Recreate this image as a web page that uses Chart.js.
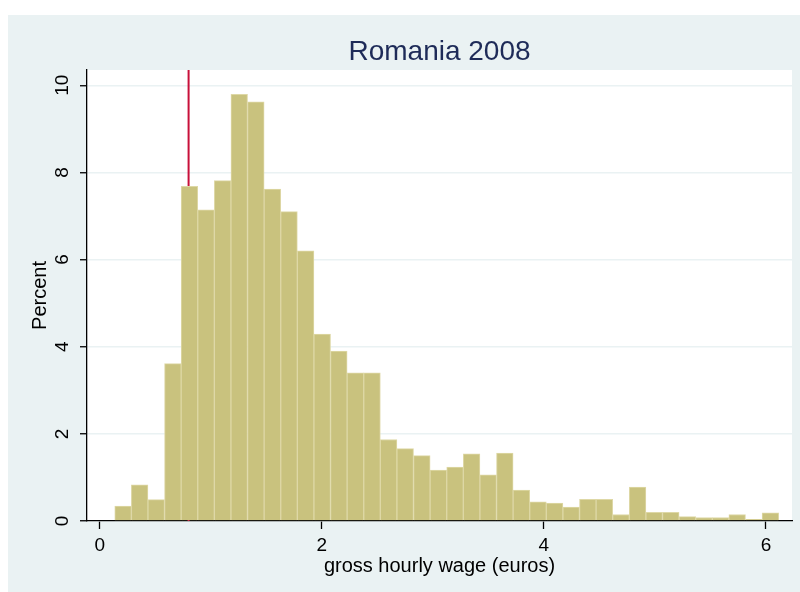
<!DOCTYPE html>
<html>
<head>
<meta charset="utf-8">
<script src="https://cdn.jsdelivr.net/npm/chart.js@4"></script>
<style>
  html, body { margin: 0; padding: 0; background: #fff; }
  #wrap { width: 800px; height: 592px; }
</style>
</head>
<body>
<div id="wrap"><canvas id="myChart"></canvas></div>
<script>
// histogram bins (euros)
var binStart = 0.135;
var binWidth = 0.1495;
var percents = [0.34, 0.83, 0.49, 3.61, 7.68, 7.14, 7.81, 9.79, 9.62, 7.62,
                7.10, 6.20, 4.29, 3.90, 3.40, 3.40, 1.87, 1.66, 1.50, 1.17,
                1.24, 1.54, 1.06, 1.56, 0.71, 0.44, 0.41, 0.32, 0.50, 0.50,
                0.15, 0.78, 0.20, 0.20, 0.10, 0.08, 0.08, 0.15, 0.04, 0.19];
var xTicks = [0, 2, 4, 6];
var yTicks = [0, 2, 4, 6, 8, 10];
var minWage = 0.8;   // red reference line
var chartTitle = 'Romania 2008';

var barData = percents.map(function (p, i) {
  return { x: binStart + binWidth * (i + 0.5), y: p };
});

// light panel, white plot region, title centred over the plot region
var panel = {
  id: 'panel',
  beforeDraw: function (chart) {
    var c = chart.ctx, a = chart.chartArea;
    c.save();
    c.fillStyle = '#EAF2F3';
    c.fillRect(8, 15, chart.width - 8, chart.height - 15);
    c.fillStyle = '#fff';
    c.fillRect(a.left, a.top, a.right - a.left, a.bottom - a.top);
    c.restore();
  },
  afterDraw: function (chart) {
    var c = chart.ctx, a = chart.chartArea;
    c.save();
    c.fillStyle = '#1E2B58';
    c.font = '28px "Liberation Sans"';
    c.textAlign = 'center';
    c.textBaseline = 'middle';
    c.fillText(chartTitle, (a.left + a.right) / 2, 52);
    c.restore();
  }
};

var ctx = document.getElementById('myChart').getContext('2d');
new Chart(ctx, {
  type: 'bar',
  data: {
    datasets: [{
      type: 'bar',
      data: barData,
      backgroundColor: '#C9C27E',
      borderColor: '#DED8A6',
      borderWidth: 1,
      barPercentage: 1,
      categoryPercentage: 1,
      order: 1
    }, {
      type: 'line',
      data: [{ x: minWage, y: 0 }, { x: minWage, y: 10.35 }],
      borderColor: '#C8103A',
      borderWidth: 2,
      pointRadius: 0,
      order: 2
    }]
  },
  options: {
    responsive: true,
    maintainAspectRatio: false,
    animation: false,
    layout: { padding: { left: 8, right: 8, top: 70, bottom: 0 } },
    plugins: {
      legend: { display: false },
      tooltip: { enabled: false },
      title: { display: false }
    },
    scales: {
      x: {
        type: 'linear',
        offset: false,
        min: -0.115,
        max: 6.235,
        afterBuildTicks: function (s) { s.ticks = xTicks.map(function (v) { return { value: v }; }); },
        afterFit: function (s) { s.height = 71; },
        ticks: { color: '#000', font: { family: 'Liberation Sans', size: 19 }, padding: 5, maxRotation: 0 },
        grid: { offset: false, drawOnChartArea: false, drawTicks: true, tickLength: 8, tickColor: '#000', tickWidth: 1.3 },
        border: { display: true, color: '#000', width: 1.3 },
        title: { display: true, text: 'gross hourly wage (euros)', color: '#000',
                 font: { family: 'Liberation Sans', size: 20 }, padding: { top: 0, bottom: 14 } }
      },
      y: {
        min: 0,
        max: 10.35,
        afterBuildTicks: function (s) { s.ticks = yTicks.map(function (v) { return { value: v }; }); },
        afterFit: function (s) { s.width = 79; },
        ticks: { color: '#000', font: { family: 'Liberation Sans', size: 19 }, minRotation: 90, maxRotation: 90,
                 crossAlign: 'center', padding: 7 },
        grid: { color: '#EAF2F3', lineWidth: 1.5, drawTicks: true, tickLength: 7, tickColor: '#000', tickWidth: 1.3 },
        border: { display: true, color: '#000', width: 1.3 },
        title: { display: true, text: 'Percent', color: '#000',
                 font: { family: 'Liberation Sans', size: 20 }, padding: { top: 20, bottom: 0 } }
      }
    }
  },
  plugins: [panel]
});
</script>
</body>
</html>
